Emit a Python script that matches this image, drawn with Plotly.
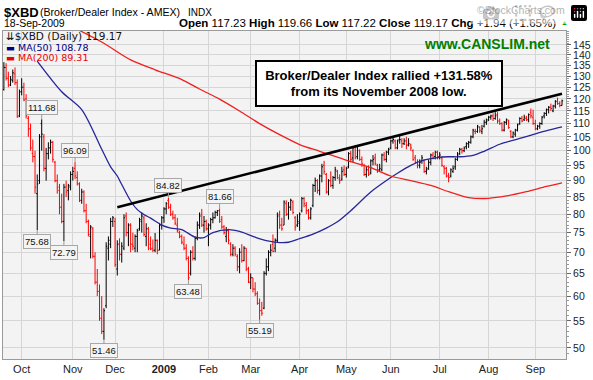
import numpy as np
import pandas as pd
import plotly.graph_objects as go

# ------------------------------------------------------------------ data
HOLIDAYS = ["2008-11-27", "2008-12-25", "2009-01-01", "2009-01-19", "2009-02-16",
            "2009-04-10", "2009-05-25", "2009-07-03", "2009-09-07"]
trading_days = [d.strftime("%Y-%m-%d") for d in pd.bdate_range("2008-09-19", "2009-09-18")
                if d.strftime("%Y-%m-%d") not in HOLIDAYS]

open_px = [
    124, 134, 129, 126, 128, 131, 127, 113, 123, 125,
    120, 112, 108, 99, 98, 86, 90, 110, 105, 94,
    99, 101, 103, 96, 90, 87, 82, 78, 88, 87,
    88, 92, 94, 91, 89, 84, 86.5, 81, 78, 74,
    76, 69, 63, 61, 55.5, 53, 58, 71, 72, 78,
    78, 66, 72, 69.5, 71, 79.5, 75, 77, 72, 71,
    74, 76, 78, 79, 74, 76, 72, 71, 70.5, 73,
    70.5, 77, 79, 81.5, 84, 82, 80, 79, 77, 75,
    74, 72, 71, 68.5, 65, 70, 68.5, 73.5, 77, 80,
    77, 78, 76, 77, 78.5, 79, 80.5, 81, 78.5, 76.5,
    74, 75.5, 72, 69.5, 71, 69, 66.5, 70, 68, 71,
    66, 63, 64, 61.5, 60.5, 58.5, 57, 57.5, 65, 66.5,
    70, 72, 71, 73, 80, 77, 77, 83, 80, 82,
    83.5, 79, 77, 77.5, 81, 84.5, 82.5, 81, 79, 82.5,
    88.5, 90, 87, 91.5, 95, 92, 86.5, 90, 88.5, 91,
    93, 90.5, 90.5, 93.5, 92, 94.5, 99, 97.5, 101.5, 98,
    100, 97, 95, 92, 93.5, 92.5, 96.5, 97.5, 95, 93.5,
    93.5, 98.5, 97, 99.5, 101, 103.5, 103.5, 101, 104, 103.5,
    102.5, 103.5, 102, 102, 100, 97.5, 96, 95, 96.5, 96.5,
    93, 94, 96, 98.5, 98, 99.5, 98, 97.5, 94.5, 94,
    91.5, 91.5, 93, 94.5, 97, 99, 100.5, 100, 101.5, 102.5,
    103, 105, 107, 107, 108.5, 107, 109, 110.5, 111.5, 112.5,
    113, 112, 113.5, 111, 110, 107.5, 110.5, 111, 107, 105,
    106, 107.5, 110, 112, 111.5, 112, 111.5, 114.5, 112.5, 110,
    108, 109, 110, 113, 114, 115.5, 116.5, 115, 117, 119,
    118, 117.23,
]
high_px = [
    136.5, 136, 132, 130, 133, 134, 128.5, 124, 129, 127,
    122, 113, 110, 104, 100, 92, 106, 111.68, 106, 101,
    103, 104, 103.5, 96.5, 92, 89, 86, 89, 90, 89,
    93, 94.5, 96.09, 93, 89.5, 87.5, 87, 83, 78.5, 77,
    76.5, 70, 66, 62.5, 60, 57.5, 72.5, 74, 79, 79.5,
    79, 73, 73.5, 72.5, 80, 80.5, 77.5, 77.5, 75, 74.5,
    76, 79, 80.5, 79.5, 77.5, 76.5, 74, 73.2, 74.9, 73.2,
    77.6, 79.5, 82, 83.5, 84.82, 83, 81, 80, 79, 75.5,
    74.5, 74, 72, 69, 70.5, 71.5, 74, 78, 80.5, 81.5,
    79.5, 78.5, 77.5, 79, 80.5, 81, 81.2, 81.66, 79.5, 77,
    76.5, 76, 72.5, 72, 71.5, 69.5, 71, 72, 71.5, 71,
    66.5, 65, 64, 63, 61, 59.5, 58.8, 65.5, 68.5, 70.5,
    72, 74.5, 73.5, 80.5, 81, 79, 84, 84, 83.5, 84.5,
    84, 79.5, 80, 80.5, 85, 85, 83.5, 81.5, 82, 89,
    91, 90.5, 92, 95.5, 96.5, 92.5, 90.5, 93, 91.5, 94.5,
    93.5, 92, 94.5, 95, 94.5, 99.5, 100, 101.5, 102, 102,
    100.5, 98, 95.5, 94.5, 95, 97, 98.5, 99, 95.5, 95.5,
    99, 99.5, 100, 101, 104, 105, 104, 104, 106, 104.5,
    104.5, 105, 104.5, 102.5, 100.5, 98.5, 97, 97, 98.5, 97,
    94.5, 97, 99, 99.5, 100, 100, 99.5, 98, 95, 94.5,
    92.5, 94, 95, 97.5, 99.5, 101, 101, 101.5, 103, 103.5,
    105.5, 108, 108, 109.5, 109, 109.5, 111.5, 112, 113, 113.5,
    114, 114.5, 114.5, 112, 110.5, 111, 112, 111.5, 107.5, 107,
    108, 110, 112.5, 113, 113.5, 113, 114, 116, 115.5, 111.5,
    109.5, 110.5, 113, 114.5, 116, 117, 118, 117.5, 119.5, 120.5,
    119, 119.66,
]
low_px = [
    123.5, 128, 125, 125.5, 127, 126, 112.3, 112.5, 121.5, 119,
    112, 105, 100, 96, 86, 75.68, 89, 100, 93, 90,
    97, 99, 96, 89.5, 86, 80, 77.5, 72.79, 85, 84,
    87, 90, 90.5, 88.5, 83.5, 83, 80.5, 77.5, 74, 68.5,
    68.5, 62.5, 60, 55, 52.5, 51.46, 57.5, 68, 71, 76.5,
    66.5, 64.5, 68, 67.5, 70.5, 74, 71.5, 70, 70.5, 70,
    70, 75.5, 75, 74, 71.5, 70.5, 70.5, 70, 70, 69.5,
    70.5, 75.8, 77.6, 80, 81.5, 79.5, 78.5, 77, 75, 73.5,
    72, 70.5, 68, 63.48, 64.5, 68, 68, 73, 76, 76.5,
    75, 75.5, 71.5, 75.8, 77.5, 78.8, 79.5, 77.6, 76, 74.5,
    72.5, 72, 69, 69, 69, 65.5, 65, 67.5, 67.8, 65.5,
    62.8, 61.5, 60.8, 60, 58.2, 55.19, 56, 57.3, 64.5, 65.5,
    69, 70, 70, 72.5, 76, 75.5, 77, 79.5, 78.5, 81,
    80, 75.5, 76.5, 75.5, 80.5, 82, 80, 78.5, 78.5, 82,
    86.5, 86, 85.5, 89.5, 92, 86, 85.5, 88, 87.5, 90,
    90.5, 89, 90, 91.5, 91, 94, 96, 96, 97, 97,
    96.5, 94.5, 91.5, 91, 91.5, 92, 95, 95, 92.5, 93,
    93, 96.5, 96, 98.5, 100.5, 102.5, 100.5, 100.5, 102.5, 101,
    102, 100.5, 101.5, 100, 96.5, 95.5, 94, 94, 95.5, 92.5,
    92, 93.5, 95, 97, 97, 97, 97, 94.5, 92, 91,
    89.5, 91, 92.5, 93.5, 96.5, 98.5, 99, 99.5, 100.5, 101,
    102.5, 104.5, 106, 106.5, 106.5, 106, 108.5, 109.5, 111, 111.5,
    111, 111.5, 110, 109.5, 107, 107, 109.5, 108, 104.5, 104.5,
    105, 107, 109.5, 110.5, 111, 111, 110.5, 112, 109.5, 107.5,
    107.5, 108, 109.5, 112, 113, 114, 115, 114.5, 116, 117.5,
    116.5, 117.22,
]
close_px = [
    134, 129, 126, 128.5, 131.5, 127, 112.6, 123, 125, 119.5,
    113, 108, 101, 98, 88, 89, 105, 106, 94, 99,
    101, 103, 97, 90, 88, 82, 78, 88, 86.5, 88.5,
    92, 93, 91.5, 89, 84, 86.5, 81, 78, 74.5, 76.5,
    69, 63, 61, 55.5, 53, 57, 71.5, 73, 78, 79,
    67, 72, 69.5, 71.5, 79, 75, 77, 72, 71.5, 74,
    75.5, 78.5, 79.5, 74.5, 76, 71, 70.8, 70.5, 73, 70.5,
    77, 79, 81.5, 83, 82, 80, 79, 77.5, 75.5, 74,
    72.5, 71, 68.5, 64, 70, 68.5, 73.5, 77, 79.5, 77,
    78, 76, 77, 78.5, 79, 80.5, 81, 78, 76.5, 75,
    75.5, 73, 69.5, 71, 69.5, 66.5, 70, 68, 71, 66,
    63, 64, 61.5, 60.5, 58.5, 57, 56.5, 65, 66.5, 70,
    70.5, 70.2, 73, 79.5, 77, 76, 83.5, 80, 82, 84,
    80.5, 76.5, 78, 80, 84.5, 83, 81, 79, 81.5, 88.5,
    90, 87, 91.5, 94.5, 93, 86.5, 90, 88.5, 91, 93.5,
    91, 90, 93, 92, 94, 99, 97, 101, 97.5, 101.5,
    97, 95.5, 92, 93.5, 92, 96.5, 97, 95.5, 93.5, 94,
    98.5, 97, 99.5, 100.5, 103.5, 104, 101, 103.5, 104, 102.5,
    103.5, 102, 102.5, 101, 97, 96, 95, 96, 97.5, 93,
    93.5, 96, 98.5, 97.5, 99.5, 98, 98.5, 95, 94, 91.5,
    91, 93.5, 94, 97, 98.5, 100.5, 100, 101, 102.5, 103,
    105, 107.5, 107, 109, 107.5, 108, 110.5, 111, 112.5, 113,
    112, 113, 111, 110, 107.5, 110.5, 111.5, 108.5, 105, 106.5,
    107.5, 109.5, 112, 111, 112.5, 111.5, 113.5, 113, 110, 108,
    109, 110, 112.5, 114, 115.5, 116.5, 116, 117, 118.8, 118,
    117.23, 119.17,
]

MA50_DATES = ["2008-10-10", "2008-10-27", "2008-11-07", "2008-11-20", "2008-11-26",
              "2008-12-02", "2008-12-04", "2008-12-10", "2008-12-15", "2008-12-18",
              "2008-12-23", "2008-12-31", "2009-01-07", "2009-01-14", "2009-01-23",
              "2009-01-29", "2009-02-04", "2009-02-13", "2009-02-23", "2009-03-03",
              "2009-03-11", "2009-03-19", "2009-03-25", "2009-04-01", "2009-04-09",
              "2009-04-20", "2009-04-27", "2009-05-05", "2009-05-18", "2009-06-01",
              "2009-06-04", "2009-06-12", "2009-06-19", "2009-06-30", "2009-07-08",
              "2009-07-15", "2009-07-23", "2009-07-30", "2009-08-10", "2009-08-21",
              "2009-09-01", "2009-09-10", "2009-09-18"]
MA50_VALUES = [137, 123, 115.5, 100.5, 94.5,
               91.5, 88.8, 83.8, 81.3, 79.9,
               78.9, 77.0, 76.2, 75.8, 73.8,
               73.7, 75.0, 75.8, 75.3, 74.0,
               72.9, 72.4, 72.5, 73.4, 74.6,
               76.2, 77.9, 81.0, 86.5, 91.0,
               92.4, 95.0, 96.6, 97.6, 97.9,
               97.9, 98.4, 99.8, 102.3, 104.4,
               106.1, 107.5, 108.78]

MA200_DATES = ["2008-10-31", "2008-11-20", "2008-12-10", "2008-12-26", "2009-01-14",
               "2009-01-27", "2009-02-09", "2009-02-23", "2009-03-06", "2009-03-19",
               "2009-04-01", "2009-04-15", "2009-04-28", "2009-05-05", "2009-05-18",
               "2009-06-01", "2009-06-12", "2009-06-25", "2009-07-08", "2009-07-21",
               "2009-08-03", "2009-08-13", "2009-08-26", "2009-09-09", "2009-09-18"]
MA200_VALUES = [155, 146.5, 137.6, 132.9, 128.4,
                124.2, 119.9, 115.0, 110.0, 105.8,
                102.2, 99.8, 97.5, 96.2, 94.2,
                91.5, 90.0, 88.5, 86.6, 84.8,
                84.6, 85.3, 86.6, 88.2, 89.31]

TREND_DATES = ["2008-12-02", "2009-09-18"]
TREND_VALUES = [82.0, 122.2]

PEAK_DATES = ["2008-10-14", "2008-10-10", "2008-10-28", "2008-11-04", "2008-11-21",
              "2009-01-06", "2009-01-20", "2009-02-09", "2009-03-06"]
PEAK_VALUES = [111.68, 75.68, 72.79, 96.09, 51.46, 84.82, 63.48, 81.66, 55.19]
PEAK_SIDE = ["above", "below", "below", "above", "below", "above", "below", "above", "below"]

MONTH_LABELS = ["Oct", "Nov", "Dec", "<b>2009</b>", "Feb", "Mar", "Apr", "May",
                "Jun", "Jul", "Aug", "Sep"]
Y_TICKS = list(range(50, 150, 5))

# ------------------------------------------------------------------ helpers
pos = {d: i for i, d in enumerate(trading_days)}
n = len(close_px)
prev_close = [open_px[0]] + close_px[:-1]
up_ids = [i for i in range(n) if close_px[i] >= prev_close[i]]
dn_ids = [i for i in range(n) if close_px[i] < prev_close[i]]

month_starts = []
seen = set()
for i, d in enumerate(trading_days):
    if d[:7] not in seen:
        seen.add(d[:7])
        month_starts.append(i)
month_starts = month_starts[1:]

W, H = 593, 380
PL, PR, PT, PB = 2, 567, 31, 359


def px(x):
    return (x - PL) / (PR - PL)


def py(y):
    return (PB - y) / (PB - PT)


def sub(arr, ids):
    return [arr[i] for i in ids]


ARIAL = "Liberation Sans, Arial, sans-serif"
VERD = "DejaVu Sans, Verdana, sans-serif"

fig = go.Figure()
for ids, col in ((up_ids, "#000000"), (dn_ids, "#ff0000")):
    fig.add_trace(go.Ohlc(
        x=ids, open=sub(open_px, ids), high=sub(high_px, ids),
        low=sub(low_px, ids), close=sub(close_px, ids),
        increasing=dict(line=dict(color=col, width=1)),
        decreasing=dict(line=dict(color=col, width=1)),
        tickwidth=0.5, hoverinfo="skip", showlegend=False))

fig.add_trace(go.Scatter(x=[pos[d] for d in MA50_DATES], y=MA50_VALUES, mode="lines",
                         line=dict(color="#26269a", width=1.3, shape="spline", smoothing=0.8),
                         hoverinfo="skip", showlegend=False))
fig.add_trace(go.Scatter(x=[pos[d] for d in MA200_DATES], y=MA200_VALUES, mode="lines",
                         line=dict(color="#f02020", width=1.3, shape="spline", smoothing=0.8),
                         hoverinfo="skip", showlegend=False))
fig.add_trace(go.Scatter(x=[pos[d] for d in TREND_DATES], y=TREND_VALUES, mode="lines",
                         line=dict(color="#000000", width=2.6),
                         hoverinfo="skip", showlegend=False))

ann = []
for d, v, s in zip(PEAK_DATES, PEAK_VALUES, PEAK_SIDE):
    ann.append(dict(x=pos[d], y=np.log10(v), xref="x", yref="y", text=f"{v:.2f}",
                    showarrow=True, arrowhead=0, arrowwidth=1, arrowcolor="#9a9a9a",
                    ax=0, ay=-12 if s == "above" else 11,
                    font=dict(family=ARIAL, size=9.5, color="#111"),
                    bordercolor="#a8a8a8", borderwidth=1, borderpad=1, bgcolor="#f4f4f4"))


def txt(text, x, y, anchor="left", size=11, color="#000", family=ARIAL, **kw):
    ann.append(dict(text=text, x=px(x), y=py(y), xref="paper", yref="paper",
                    xanchor=anchor, yanchor="middle", showarrow=False,
                    font=dict(family=family, size=size, color=color), **kw))


# header
txt("<b>$XBD</b>", 1, 12, size=13)
txt("(Broker/Dealer Index - AMEX)", 37, 12, size=10.6)
txt("INDX", 186, 12, size=10)
txt("©StockCharts.com", 568, 10, anchor="right", size=10.5, color="#666")
txt("18-Sep-2009", 1, 23, size=10.5)
txt("<b>Open</b> 117.23 <b>High</b> 119.66 <b>Low</b> 117.22 <b>Close</b> 119.17 "
    "<b>Chg</b> +1.94 (+1.65%)", 559, 23, anchor="right", size=11.5)
txt("▲", 560, 23, size=7, color="#00a000")

# in-plot legend
txt("⇊$XBD (Daily) 119.17", 3, 36, size=10.5, family=VERD, color="#111")
txt("<b>▬</b> MA(50) 108.78", 3, 47, size=9.5, family=VERD, color="#000080")
txt("<b>▬</b> MA(200) 89.31", 3, 58, size=9.5, family=VERD, color="#ee0000")

# site and callout
txt("<b>www.CANSLIM.net</b>", 488, 44, anchor="center", size=14, color="#008000")
ann.append(dict(text="<b>Broker/Dealer Index rallied +131.58%<br>from its November 2008 low.</b>",
                x=px(379), y=py(83.5), xref="paper", yref="paper", xanchor="center",
                yanchor="middle", showarrow=False, align="center",
                font=dict(family=ARIAL, size=13, color="#000"),
                bordercolor="#000", borderwidth=2, borderpad=2, bgcolor="#ffffff",
                width=240, height=39))

fig.update_layout(
    width=W, height=H, margin=dict(l=PL, r=W - PR, t=PT, b=H - PB),
    paper_bgcolor="#ffffff", plot_bgcolor="#f3f3f3",
    showlegend=False, annotations=ann,
    xaxis=dict(range=[-0.4, 252.8], tickmode="array", tickvals=month_starts,
               ticktext=MONTH_LABELS, showgrid=True, gridcolor="#d6d6d6", gridwidth=1,
               zeroline=False, showline=True, linecolor="#9a9a9a", mirror=True,
               ticks="", tickfont=dict(family=ARIAL, size=11, color="#222"),
               rangeslider=dict(visible=False), fixedrange=True),
    yaxis=dict(type="log", range=[np.log10(48.1), np.log10(152.3)], side="right",
               tickmode="array", tickvals=Y_TICKS, ticktext=[str(v) for v in Y_TICKS],
               showgrid=True, gridcolor="#d6d6d6", gridwidth=1, zeroline=False,
               showline=True, linecolor="#9a9a9a", mirror=True,
               ticks="outside", ticklen=4, tickcolor="#666",
               minor=dict(tickmode="array", tickvals=list(range(49, 153)), ticklen=2,
                          tickcolor="#999", showgrid=False),
               tickfont=dict(family=ARIAL, size=10.5, color="#222"), fixedrange=True),
)

fig.write_html("out.html", post_script="document.body.style.margin='0px';")
